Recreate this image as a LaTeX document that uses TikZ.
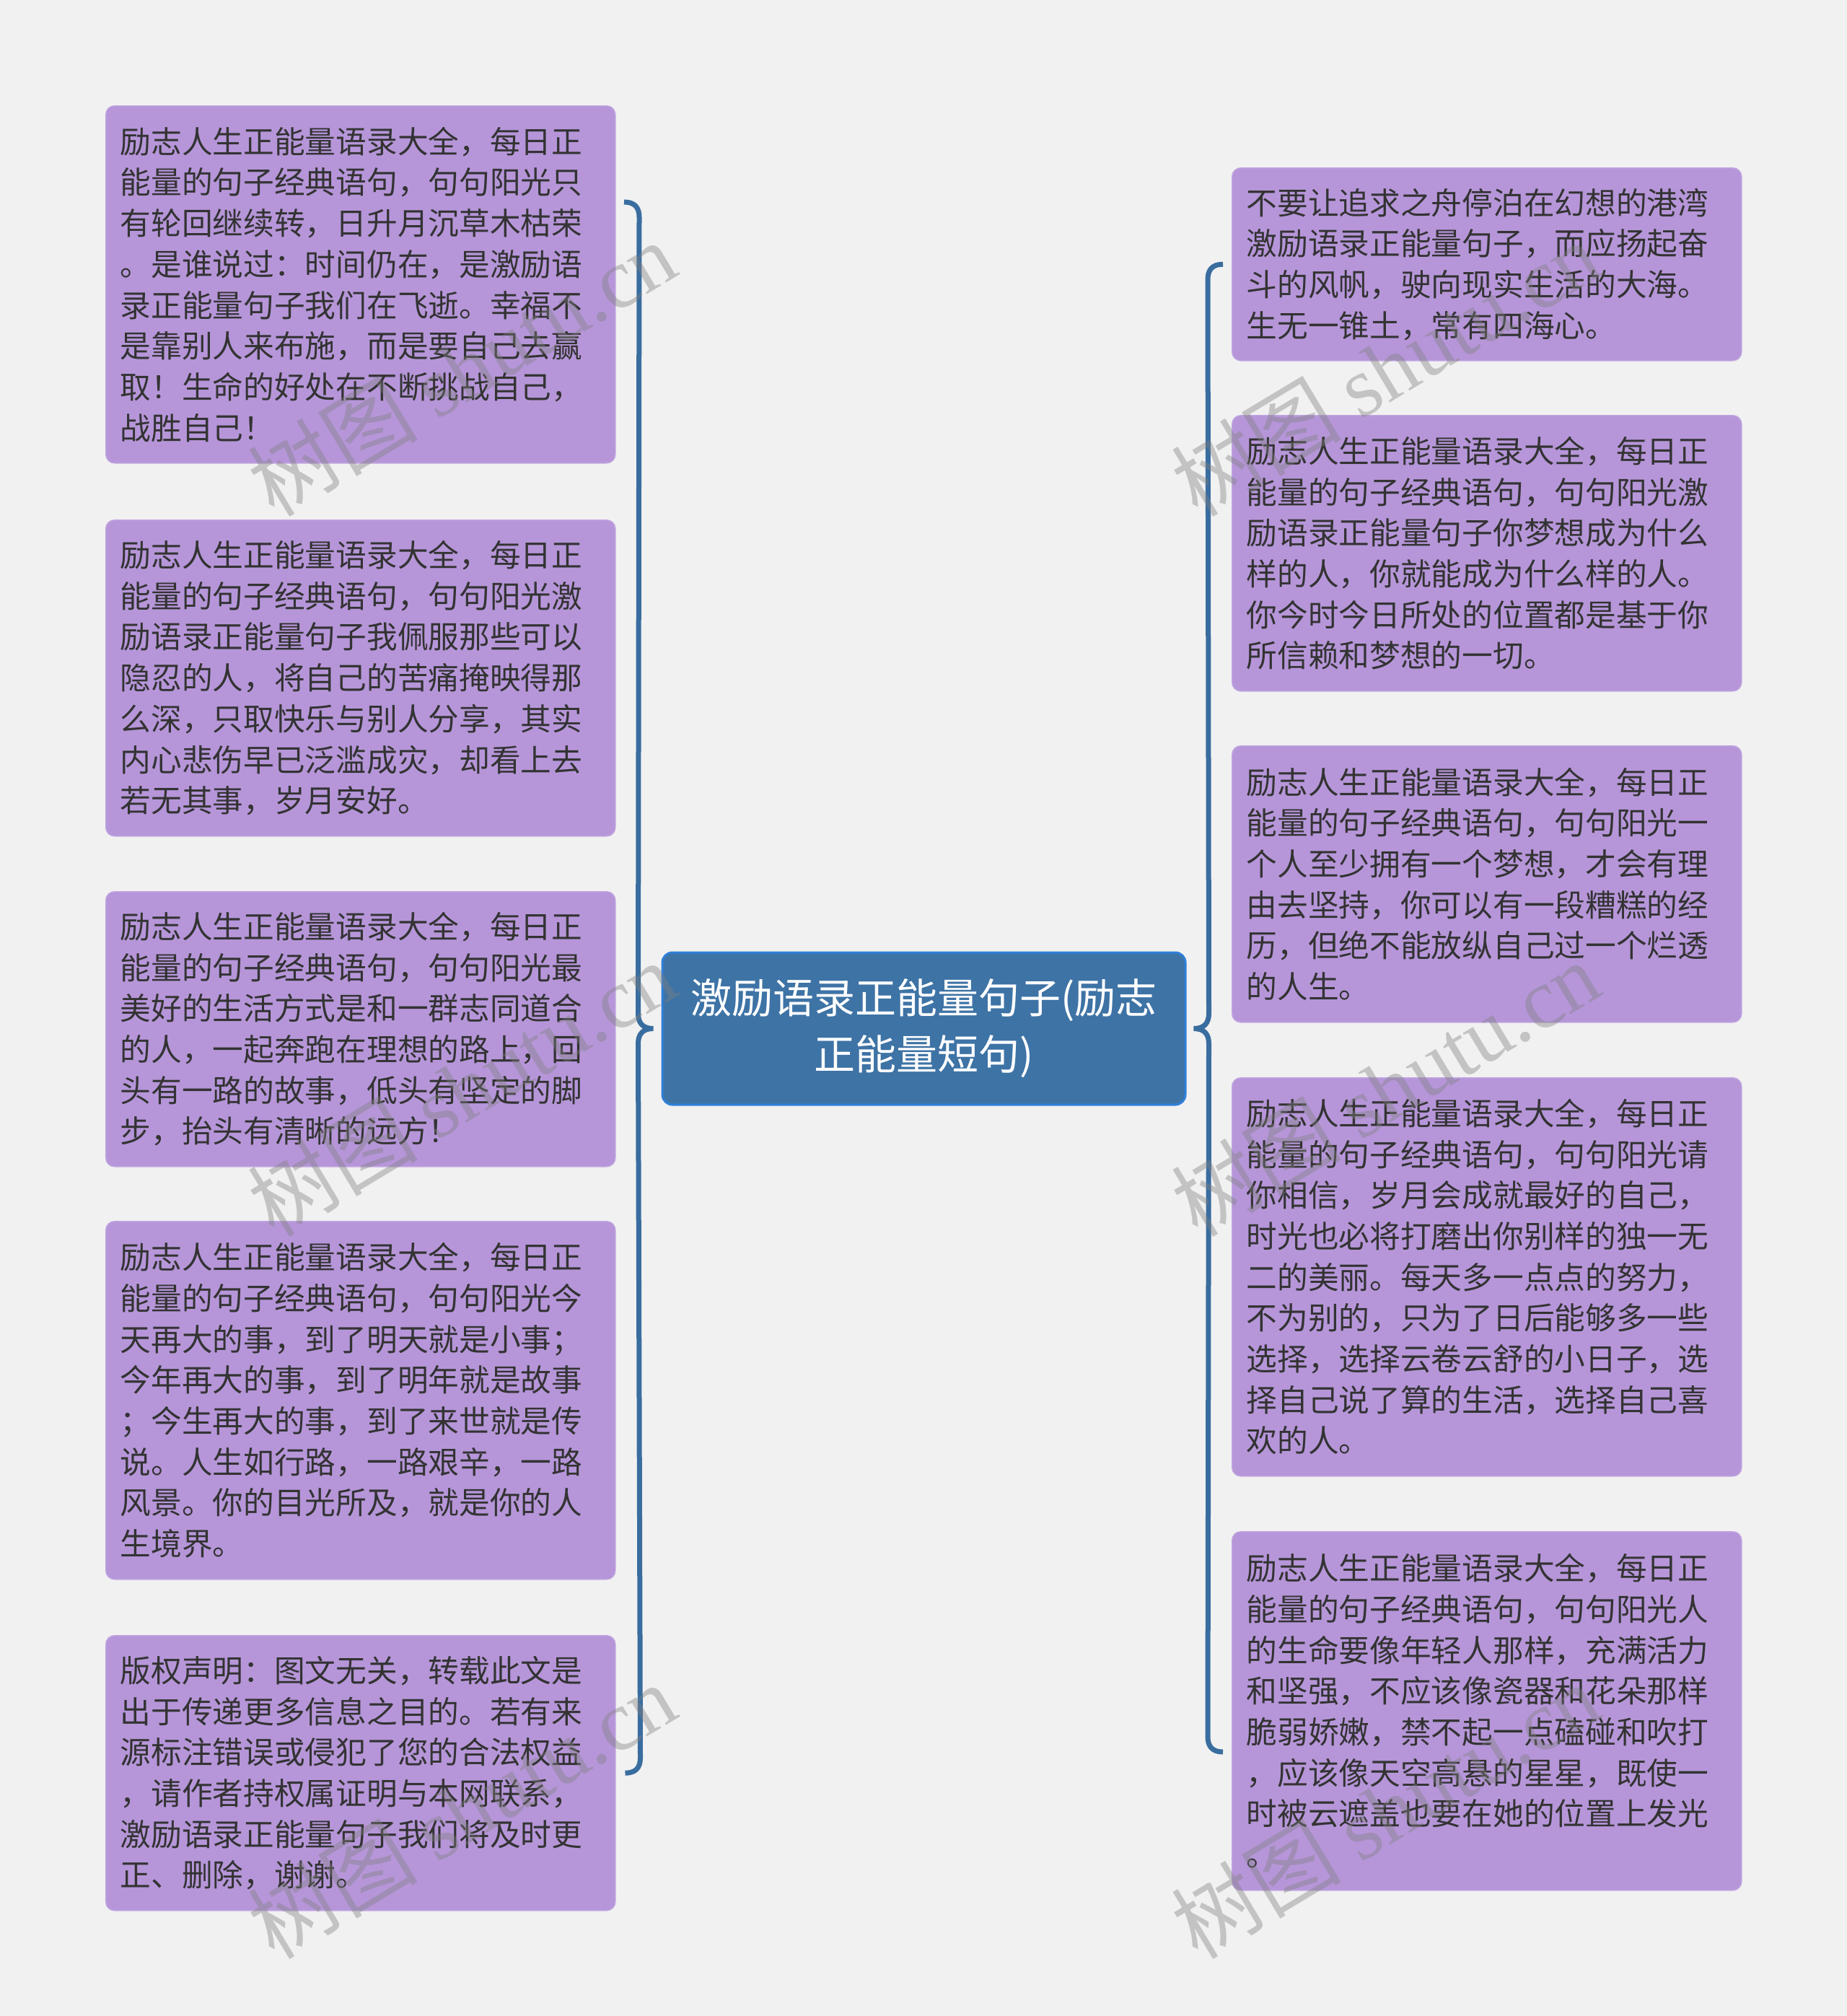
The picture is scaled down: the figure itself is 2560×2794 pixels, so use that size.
\documentclass[tikz,border=0pt]{standalone}
\usepackage{fontspec}
\newfontfamily\cjk{Noto Sans CJK SC}
\newfontfamily\wmlatin{Liberation Serif}
\usetikzlibrary{calc}
\definecolor{bgc}{HTML}{F1F1F1}
\definecolor{leaffill}{HTML}{B696D9}
\definecolor{leafdraw}{HTML}{BFA3E0}
\definecolor{txt}{HTML}{333333}
\definecolor{rootfill}{HTML}{3E73A5}
\definecolor{rootdraw}{HTML}{2F7FD9}
\definecolor{bracec}{HTML}{3A6D9F}
\tikzset{
  leaf/.style={rectangle, rounded corners=12bp, fill=leaffill, draw=leafdraw, line width=1.5bp,
    anchor=north west, minimum width=706bp, text width=666bp, inner xsep=20bp, inner ysep=0bp,
    align=left, text=txt, font=\cjk\fontsize{42.7bp}{56.7bp}\selectfont},
  rootbox/.style={rectangle, rounded corners=14bp, fill=rootfill, draw=rootdraw, line width=3bp,
    minimum width=725bp, minimum height=211bp, align=center, text=white,
    font=\cjk\fontsize{57bp}{78bp}\selectfont},
  bracepath/.style={draw=bracec, line width=7bp},
  wm/.style={rotate=31, text=gray, opacity=0.4, font=\fontsize{118bp}{128bp}\selectfont, inner sep=0bp}
}
\begin{document}
\begin{tikzpicture}[x=1bp, y=-1bp]
\fill[bgc] (0,0) rectangle (2560,2794);
\useasboundingbox (0,0) rectangle (2560,2794);

% centre
\node[rootbox] (root) at (1280.5,1425.5) {激励语录正能量句子(励志\\正能量短句)};

% left column
\node[leaf, minimum height=495bp] (l1) at (146,146) {励志人生正能量语录大全，每日正\\能量的句子经典语句，句句阳光只\\有轮回继续转，日升月沉草木枯荣\\。是谁说过：时间仍在，是激励语\\录正能量句子我们在飞逝。幸福不\\是靠别人来布施，而是要自己去赢\\取！生命的好处在不断挑战自己，\\战胜自己！};
\node[leaf, minimum height=438bp] (l2) at (146,720) {励志人生正能量语录大全，每日正\\能量的句子经典语句，句句阳光激\\励语录正能量句子我佩服那些可以\\隐忍的人，将自己的苦痛掩映得那\\么深，只取快乐与别人分享，其实\\内心悲伤早已泛滥成灾，却看上去\\若无其事，岁月安好。};
\node[leaf, minimum height=381bp] (l3) at (146,1235) {励志人生正能量语录大全，每日正\\能量的句子经典语句，句句阳光最\\美好的生活方式是和一群志同道合\\的人，一起奔跑在理想的路上，回\\头有一路的故事，低头有坚定的脚\\步，抬头有清晰的远方！};
\node[leaf, minimum height=496bp] (l4) at (146,1692) {励志人生正能量语录大全，每日正\\能量的句子经典语句，句句阳光今\\天再大的事，到了明天就是小事；\\今年再大的事，到了明年就是故事\\；今生再大的事，到了来世就是传\\说。人生如行路，一路艰辛，一路\\风景。你的目光所及，就是你的人\\生境界。};
\node[leaf, minimum height=381bp] (l5) at (146,2266) {版权声明：图文无关，转载此文是\\出于传递更多信息之目的。若有来\\源标注错误或侵犯了您的合法权益\\，请作者持权属证明与本网联系，\\激励语录正能量句子我们将及时更\\正、删除，谢谢。};

% right column
\node[leaf, minimum height=267bp] (r1) at (1707,232) {不要让追求之舟停泊在幻想的港湾\\激励语录正能量句子，而应扬起奋\\斗的风帆，驶向现实生活的大海。\\生无一锥土，常有四海心。};
\node[leaf, minimum height=382bp] (r2) at (1707,575) {励志人生正能量语录大全，每日正\\能量的句子经典语句，句句阳光激\\励语录正能量句子你梦想成为什么\\样的人，你就能成为什么样的人。\\你今时今日所处的位置都是基于你\\所信赖和梦想的一切。};
\node[leaf, minimum height=383bp] (r3) at (1707,1033) {励志人生正能量语录大全，每日正\\能量的句子经典语句，句句阳光一\\个人至少拥有一个梦想，才会有理\\由去坚持，你可以有一段糟糕的经\\历，但绝不能放纵自己过一个烂透\\的人生。};
\node[leaf, minimum height=552bp] (r4) at (1707,1493) {励志人生正能量语录大全，每日正\\能量的句子经典语句，句句阳光请\\你相信，岁月会成就最好的自己，\\时光也必将打磨出你别样的独一无\\二的美丽。每天多一点点的努力，\\不为别的，只为了日后能够多一些\\选择，选择云卷云舒的小日子，选\\择自己说了算的生活，选择自己喜\\欢的人。};
\node[leaf, minimum height=497bp] (r5) at (1707,2122) {励志人生正能量语录大全，每日正\\能量的句子经典语句，句句阳光人\\的生命要像年轻人那样，充满活力\\和坚强，不应该像瓷器和花朵那样\\脆弱娇嫩，禁不起一点磕碰和吹打\\，应该像天空高悬的星星，既使一\\时被云遮盖也要在她的位置上发光\\。};

% braces
\coordinate (lbtop) at (865,280);
\coordinate (lbbot) at ([xshift=13bp]l5.east);
\coordinate (lbtip) at ([xshift=-11bp]root.west);
\coordinate (rbtop) at ([xshift=-12bp]r1.west);
\coordinate (rbbot) at (1695,2428);
\coordinate (rbtip) at ([xshift=10bp]root.east);

\draw[bracepath] (lbtop) .. controls +(14,0) and +(0,-14) .. ($(lbtop)+(21,21)$)
  -- ($(lbtip)+(-21,-21)$) .. controls +(0,14) and +(-14,0) .. (lbtip)
  .. controls +(-14,0) and +(0,-14) .. ($(lbtip)+(-21,21)$)
  -- ($(lbbot)+(21,-21)$) .. controls +(0,14) and +(14,0) .. (lbbot);
\draw[bracepath] (rbtop) .. controls +(-14,0) and +(0,-14) .. ($(rbtop)+(-21,21)$)
  -- ($(rbtip)+(21,-21)$) .. controls +(0,14) and +(14,0) .. (rbtip)
  .. controls +(14,0) and +(0,-14) .. ($(rbtip)+(21,21)$)
  -- ($(rbbot)+(-21,-21)$) .. controls +(0,14) and +(-14,0) .. (rbbot);

% watermarks
\node[wm] (w1) at (640,510) {\cjk 树图 \wmlatin shutu.cn};
\node[wm] (w2) at (640,1508) {\cjk 树图 \wmlatin shutu.cn};
\node[wm] (w3) at (640,2509) {\cjk 树图 \wmlatin shutu.cn};
\node[wm] (w4) at (1920,510) {\cjk 树图 \wmlatin shutu.cn};
\node[wm] (w5) at (1920,1508) {\cjk 树图 \wmlatin shutu.cn};
\node[wm] (w6) at (1920,2509) {\cjk 树图 \wmlatin shutu.cn};
\end{tikzpicture}
\end{document}
